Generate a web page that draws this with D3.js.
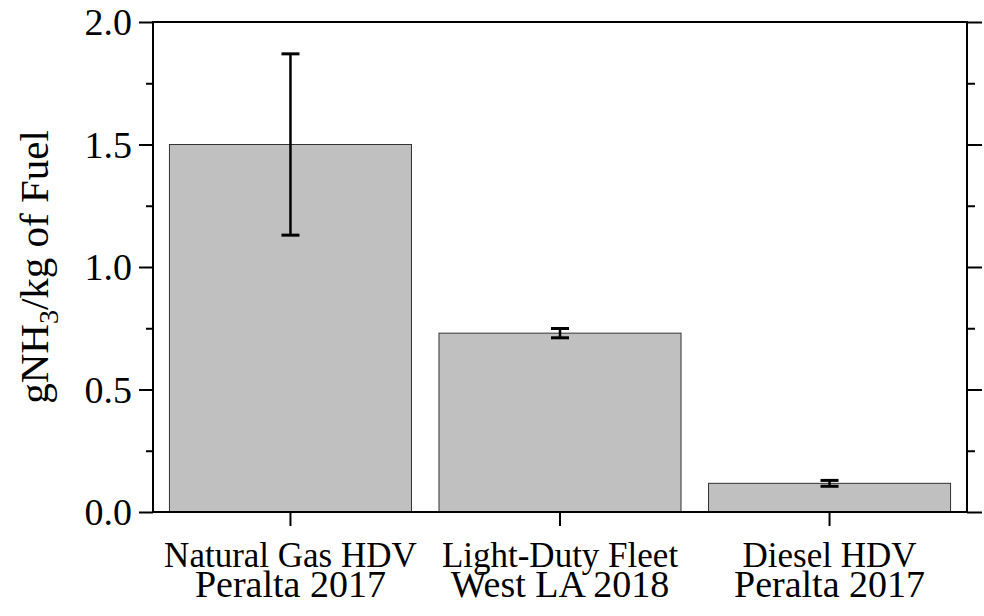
<html>
<head>
<script src="https://d3js.org/d3.v7.min.js"></script>
<style>
  body { margin: 0; background: #fff; }
  svg text { font-family: "Liberation Serif", "Times New Roman", serif; fill: #000; }
  .domain { display: none; }
</style>
</head>
<body>
<svg id="chart" width="984" height="616"></svg>
<script>
// data
const categories = ["Natural Gas HDV", "Light-Duty Fleet", "Diesel HDV"];
const studies = ["Peralta 2017", "West LA 2018", "Peralta 2017"];
const values = [1.5, 0.73, 0.117];
const errors = [0.37, 0.019, 0.012];
const majorTicks = [0, 0.5, 1.0, 1.5, 2.0];
const minorTicks = [0.25, 0.75, 1.25, 1.75];

const svg = d3.select('#chart');
const plotL = 153, plotR = 967, plotT = 22, plotB = 512;

const x = d3.scaleBand().domain(categories).range([plotL, plotR])
  .paddingInner(0.102).paddingOuter(0.061);
const y = d3.scaleLinear().domain([0, 2]).range([plotB, plotT]);

// bars
svg.append('g').selectAll('rect').data(values).enter().append('rect')
  .attr('x', (d, i) => x(categories[i]))
  .attr('y', d => y(d))
  .attr('width', x.bandwidth())
  .attr('height', d => y(0) - y(d))
  .attr('fill', '#c0c0c0')
  .attr('stroke', '#333')
  .attr('stroke-width', 1);

// error bars
const eb = svg.append('g').attr('stroke', '#000');
values.forEach(function(v, i) {
  const cx = x(categories[i]) + x.bandwidth() / 2;
  eb.append('line').attr('x1', cx).attr('x2', cx)
    .attr('y1', y(v - errors[i])).attr('y2', y(v + errors[i]))
    .attr('stroke-width', 2.5);
  [v - errors[i], v + errors[i]].forEach(function(e) {
    eb.append('line').attr('x1', cx - 9).attr('x2', cx + 9)
      .attr('y1', y(e)).attr('y2', y(e))
      .attr('stroke-width', 3);
  });
});

// left axis
svg.append('g').attr('transform', `translate(${plotL},0)`)
  .call(d3.axisLeft(y).tickValues(majorTicks).tickSize(14).tickPadding(7).tickFormat(d3.format('.1f')))
  .call(g => g.selectAll('.tick line').attr('stroke', '#000').attr('stroke-width', 2))
  .call(g => g.selectAll('.tick text').style('font-size', '38px').attr('dy', '0.34em'));
svg.append('g').attr('transform', `translate(${plotL},0)`)
  .call(d3.axisLeft(y).tickValues(minorTicks).tickSize(7).tickFormat(''))
  .call(g => g.selectAll('.tick line').attr('stroke', '#000').attr('stroke-width', 2));

// right axis
svg.append('g').attr('transform', `translate(${plotR},0)`)
  .call(d3.axisRight(y).tickValues(majorTicks).tickSize(15).tickFormat(''))
  .call(g => g.selectAll('.tick line').attr('stroke', '#000').attr('stroke-width', 2));
svg.append('g').attr('transform', `translate(${plotR},0)`)
  .call(d3.axisRight(y).tickValues(minorTicks).tickSize(8).tickFormat(''))
  .call(g => g.selectAll('.tick line').attr('stroke', '#000').attr('stroke-width', 2));

// bottom axis
const xAxis = svg.append('g').attr('transform', `translate(0,${plotB})`)
  .call(d3.axisBottom(x).tickSize(14).tickFormat(''))
  .call(g => g.selectAll('.tick line').attr('stroke', '#000').attr('stroke-width', 2));
xAxis.selectAll('.tick').each(function(d, i) {
  const t = d3.select(this).append('text').attr('text-anchor', 'middle');
  t.append('tspan').attr('x', 0).attr('y', 55).style('font-size', '35px').text(categories[i]);
  t.append('tspan').attr('x', 0).attr('y', 85).style('font-size', '38px').text(studies[i]);
});

// frame
svg.append('rect').attr('x', plotL).attr('y', plotT)
  .attr('width', plotR - plotL).attr('height', plotB - plotT)
  .attr('fill', 'none').attr('stroke', '#000').attr('stroke-width', 2);

// y label
const yl = svg.append('text')
  .attr('transform', `translate(48,${(plotT + plotB) / 2}) rotate(-90)`)
  .attr('text-anchor', 'middle')
  .style('font-size', '41px');
yl.append('tspan').text('gNH');
yl.append('tspan').attr('dy', 10).style('font-size', '28px').text('3');
yl.append('tspan').attr('dy', -10).text('/kg of Fuel');
</script>
</body>
</html>
